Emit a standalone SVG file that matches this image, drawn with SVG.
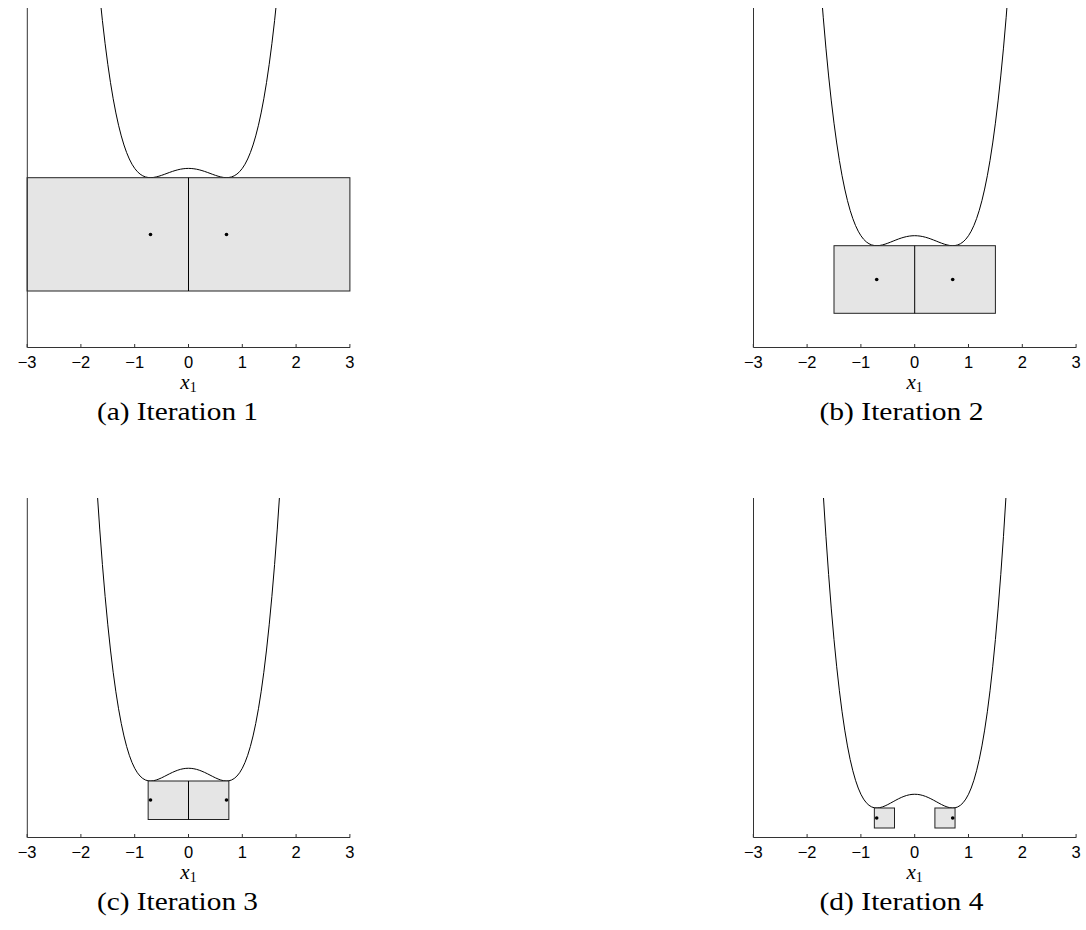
<svg xmlns="http://www.w3.org/2000/svg" xmlns:xlink="http://www.w3.org/1999/xlink" width="1086" height="930" viewBox="0 0 1086 930">
<style>
.ax{stroke:#333;stroke-width:1;fill:none}
.box{fill:#e5e5e5;stroke:#222;stroke-width:1}
.div{stroke:#000;stroke-width:1}
.crv{fill:none;stroke:#000;stroke-width:1}
.dot{fill:#000}
.tk{font-family:"Liberation Sans",Arial,sans-serif;font-size:16.5px;fill:#000;text-anchor:middle}
.xl{font-family:"Liberation Serif","Times New Roman",serif;font-size:21px;font-style:italic;fill:#000;text-anchor:middle}
.sub{font-size:14px;font-style:normal}
.cap{font-family:"Liberation Serif","Times New Roman",serif;font-size:25px;fill:#000;text-anchor:middle}
</style>
<defs>
<path id="f" class="crv" vector-effect="non-scaling-stroke" d="M-1.8,-7.2576 L-1.75,-6.3164 L-1.7,-5.4621 L-1.65,-4.6895 L-1.6,-3.9936 L-1.55,-3.3695 L-1.5,-2.8125 L-1.45,-2.318 L-1.4,-1.8816 L-1.35,-1.499 L-1.3,-1.1661 L-1.25,-0.8789 L-1.2,-0.6336 L-1.15,-0.4265 L-1.1,-0.2541 L-1.05,-0.113 L-1,0 L-0.95,0.088 L-0.9,0.1539 L-0.85,0.2005 L-0.8,0.2304 L-0.75,0.2461 L-0.7,0.2499 L-0.65,0.244 L-0.6,0.2304 L-0.55,0.211 L-0.5,0.1875 L-0.45,0.1615 L-0.4,0.1344 L-0.35,0.1075 L-0.3,0.0819 L-0.25,0.0586 L-0.2,0.0384 L-0.15,0.022 L-0.1,0.0099 L-0.05,0.0025 L0,0 L0.05,0.0025 L0.1,0.0099 L0.15,0.022 L0.2,0.0384 L0.25,0.0586 L0.3,0.0819 L0.35,0.1075 L0.4,0.1344 L0.45,0.1615 L0.5,0.1875 L0.55,0.211 L0.6,0.2304 L0.65,0.244 L0.7,0.2499 L0.75,0.2461 L0.8,0.2304 L0.85,0.2005 L0.9,0.1539 L0.95,0.088 L1,0 L1.05,-0.113 L1.1,-0.2541 L1.15,-0.4265 L1.2,-0.6336 L1.25,-0.8789 L1.3,-1.1661 L1.35,-1.499 L1.4,-1.8816 L1.45,-2.318 L1.5,-2.8125 L1.55,-3.3695 L1.6,-3.9936 L1.65,-4.6895 L1.7,-5.4621 L1.75,-6.3164 L1.8,-7.2576"/>
<path id="ticks" class="ax" d="M0,0 v-3.5 M53.8,0 v-3.5 M107.6,0 v-3.5 M161.4,0 v-3.5 M215.2,0 v-3.5 M269,0 v-3.5 M322.8,0 v-3.5"/>
<clipPath id="clipTop"><rect x="0" y="8" width="1086" height="340"/></clipPath>
<clipPath id="clipBot"><rect x="0" y="498" width="1086" height="340"/></clipPath>
</defs>

<g id="panel-a">
<g clip-path="url(#clipTop)"><use xlink:href="#f" href="#f" transform="translate(188.5,168.4) scale(53.8,37)"/></g>
<rect class="box" x="27.1" y="177.7" width="322.8" height="113.3"/>
<line class="div" x1="188.5" y1="177.7" x2="188.5" y2="291"/>
<circle class="dot" cx="150.5" cy="234.5" r="1.8"/><circle class="dot" cx="226.5" cy="234.5" r="1.8"/>
<path class="ax" d="M27.3,8 V347.5 H350.1"/>
<use xlink:href="#ticks" href="#ticks" transform="translate(27.1,347.5)"/>
<g class="tk"><text x="27.1" y="367.5">−3</text><text x="80.9" y="367.5">−2</text><text x="134.7" y="367.5">−1</text><text x="188.5" y="367.5">0</text><text x="242.3" y="367.5">1</text><text x="296.1" y="367.5">2</text><text x="349.9" y="367.5">3</text></g>
<text class="xl" x="188.5" y="388.5">x<tspan class="sub" dy="3">1</tspan></text>
<text class="cap" x="177.5" y="420" textLength="161" lengthAdjust="spacingAndGlyphs">(a) Iteration 1</text>
</g>

<g id="panel-b">
<g clip-path="url(#clipTop)"><use xlink:href="#f" href="#f" transform="translate(914.7,235.7) scale(53.8,40)"/></g>
<rect class="box" x="834" y="245.7" width="161.4" height="67.6"/>
<line class="div" x1="914.7" y1="245.7" x2="914.7" y2="313.3"/>
<circle class="dot" cx="876.7" cy="279.5" r="1.8"/><circle class="dot" cx="952.7" cy="279.5" r="1.8"/>
<path class="ax" d="M753.5,8 V347.5 H1076.3"/>
<use xlink:href="#ticks" href="#ticks" transform="translate(753.3,347.5)"/>
<g class="tk"><text x="753.3" y="367.5">−3</text><text x="807.1" y="367.5">−2</text><text x="860.9" y="367.5">−1</text><text x="914.7" y="367.5">0</text><text x="968.5" y="367.5">1</text><text x="1022.3" y="367.5">2</text><text x="1076.1" y="367.5">3</text></g>
<text class="xl" x="914.7" y="388.5">x<tspan class="sub" dy="3">1</tspan></text>
<text class="cap" x="901.5" y="420" textLength="164" lengthAdjust="spacingAndGlyphs">(b) Iteration 2</text>
</g>

<g id="panel-c">
<g clip-path="url(#clipBot)"><use xlink:href="#f" href="#f" transform="translate(188.5,768.25) scale(53.8,51)"/></g>
<rect class="box" x="148.15" y="781" width="80.7" height="38.5"/>
<line class="div" x1="188.5" y1="781" x2="188.5" y2="819.5"/>
<circle class="dot" cx="150.5" cy="800" r="1.8"/><circle class="dot" cx="226.5" cy="800" r="1.8"/>
<path class="ax" d="M27.3,498 V837.5 H350.1"/>
<use xlink:href="#ticks" href="#ticks" transform="translate(27.1,837.5)"/>
<g class="tk"><text x="27.1" y="857.5">−3</text><text x="80.9" y="857.5">−2</text><text x="134.7" y="857.5">−1</text><text x="188.5" y="857.5">0</text><text x="242.3" y="857.5">1</text><text x="296.1" y="857.5">2</text><text x="349.9" y="857.5">3</text></g>
<text class="xl" x="188.5" y="878.5">x<tspan class="sub" dy="3">1</tspan></text>
<text class="cap" x="177.5" y="910" textLength="161" lengthAdjust="spacingAndGlyphs">(c) Iteration 3</text>
</g>

<g id="panel-d">
<g clip-path="url(#clipBot)"><use xlink:href="#f" href="#f" transform="translate(914.7,794.25) scale(53.8,55)"/></g>
<rect class="box" x="874.35" y="808" width="20.15" height="20"/>
<rect class="box" x="934.9" y="808" width="20.15" height="20"/>
<circle class="dot" cx="876.7" cy="818" r="1.8"/><circle class="dot" cx="952.7" cy="818" r="1.8"/>
<path class="ax" d="M753.5,498 V837.5 H1076.3"/>
<use xlink:href="#ticks" href="#ticks" transform="translate(753.3,837.5)"/>
<g class="tk"><text x="753.3" y="857.5">−3</text><text x="807.1" y="857.5">−2</text><text x="860.9" y="857.5">−1</text><text x="914.7" y="857.5">0</text><text x="968.5" y="857.5">1</text><text x="1022.3" y="857.5">2</text><text x="1076.1" y="857.5">3</text></g>
<text class="xl" x="914.7" y="878.5">x<tspan class="sub" dy="3">1</tspan></text>
<text class="cap" x="901.5" y="910" textLength="164" lengthAdjust="spacingAndGlyphs">(d) Iteration 4</text>
</g>

<g id="connectors"/>
</svg>
